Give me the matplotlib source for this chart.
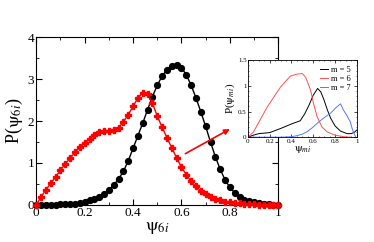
import matplotlib
matplotlib.use("Agg")
import matplotlib.pyplot as plt
import numpy as np
from matplotlib.ticker import MultipleLocator

plt.rcParams['font.family'] = ['Liberation Serif', 'DejaVu Serif']
plt.rcParams['mathtext.fontset'] = 'stix'

# main panel: P(psi_6i) at psi = 0, 0.02, ..., 1
psi = np.round(np.arange(51) * 0.02, 2)
p_black = [0.0, 0.01, 0.01, 0.01, 0.01, 0.02, 0.02, 0.02, 0.03, 0.04,
           0.08, 0.11, 0.15, 0.2, 0.27, 0.36, 0.47, 0.62, 0.8, 1.05,
           1.35, 1.65, 1.95, 2.27, 2.58, 2.85, 3.07, 3.22, 3.32, 3.33,
           3.27, 3.1, 2.85, 2.55, 2.22, 1.87, 1.5, 1.15, 0.85, 0.6,
           0.42, 0.29, 0.2, 0.13, 0.09, 0.06, 0.04, 0.03, 0.02, 0.01, 0.01]
p_red = [0.0, 0.2, 0.36, 0.52, 0.67, 0.83, 0.98, 1.12, 1.25, 1.37,
         1.47, 1.57, 1.66, 1.73, 1.76, 1.76, 1.78, 1.84, 1.98, 2.15,
         2.35, 2.55, 2.67, 2.64, 2.42, 2.12, 1.85, 1.6, 1.36, 1.12,
         0.9, 0.72, 0.56, 0.44, 0.34, 0.26, 0.2, 0.15, 0.11, 0.08,
         0.06, 0.05, 0.04, 0.03, 0.02, 0.02, 0.01, 0.01, 0.01, 0.0, 0.0]

# inset: P(psi_mi) for m = 5, 6, 7
x_m5 = [0, 0.05, 0.1, 0.2, 0.3, 0.39, 0.44, 0.48, 0.52, 0.56, 0.6, 0.64, 0.67, 0.7, 0.73, 0.76, 0.8, 0.85, 0.91, 0.95, 0.98, 1.0]
p_m5 = [0, 0.04, 0.07, 0.09, 0.17, 0.25, 0.29, 0.32, 0.45, 0.62, 0.82, 0.95, 0.88, 0.72, 0.53, 0.37, 0.22, 0.12, 0.07, 0.07, 0.1, 0.14]
x_m6 = [0, 0.05, 0.12, 0.18, 0.24, 0.3, 0.35, 0.39, 0.45, 0.5, 0.53, 0.575, 0.6, 0.635, 0.68, 0.73, 0.8, 0.88, 0.95]
p_m6 = [0, 0.1, 0.37, 0.6, 0.79, 0.98, 1.1, 1.19, 1.23, 1.24, 1.17, 0.92, 0.68, 0.4, 0.2, 0.1, 0.04, 0.01, 0]
x_m7 = [0, 0.3, 0.4, 0.45, 0.5, 0.545, 0.6, 0.635, 0.7, 0.76, 0.81, 0.85, 0.88, 0.91, 0.94, 0.96, 0.98, 0.99]
p_m7 = [0, 0, 0.01, 0.03, 0.06, 0.11, 0.2, 0.27, 0.38, 0.47, 0.58, 0.65, 0.52, 0.42, 0.3, 0.15, 0.05, 0]

x_ticks = [0, 0.2, 0.4, 0.6, 0.8, 1]
x_labels = ['0', '0.2', '0.4', '0.6', '0.8', '1']

fig = plt.figure(figsize=(3.74, 2.42), dpi=100)
ax = fig.add_axes([0.097, 0.153, 0.647, 0.694])
ax.plot(psi, p_black, '-o', color='black', ms=4.2, lw=1.0, zorder=3, clip_on=False)
ax.plot(psi, p_red, '-P', color='red', ms=4.0, lw=1.0, zorder=4, clip_on=False)
ax.set_xlim(0, 1)
ax.set_ylim(0, 4)
ax.set_xticks(x_ticks)
ax.set_xticklabels(x_labels)
ax.xaxis.set_minor_locator(MultipleLocator(0.1))
ax.set_yticks([0, 1, 2, 3, 4])
ax.set_yticklabels(['0', '1', '2', '3', '4'])
ax.yaxis.set_minor_locator(MultipleLocator(0.5))
ax.tick_params(which='both', direction='in', top=True, right=True, labelsize=9.5, pad=1.5)
ax.tick_params(which='major', length=4)
ax.tick_params(which='minor', length=2)
ax.set_xlabel(r'$\mathrm{\psi}_{6i}$', fontsize=13, labelpad=0)
ax.set_ylabel(r'P($\mathrm{\psi}_{6i}$)', fontsize=13, labelpad=2)

ax.annotate('', xy=(0.81, 1.84), xytext=(0.606, 1.19),
            arrowprops=dict(arrowstyle='-|>', color='red', lw=1.2,
                            mutation_scale=8), zorder=6)

ins = fig.add_axes([0.663, 0.433, 0.291, 0.318])
ins.plot(x_m5, p_m5, color='black', lw=0.7, label='m = 5')
ins.plot(x_m6, p_m6, color='#ff5050', lw=0.7, label='m = 6')
ins.plot(x_m7, p_m7, color='#5577ff', lw=0.7, label='m = 7')
ins.set_xlim(0, 1)
ins.set_ylim(0, 1.5)
ins.set_xticks(x_ticks)
ins.set_xticklabels(x_labels)
ins.set_yticks([0, 0.5, 1, 1.5])
ins.set_yticklabels(['0', '0.5', '1', '1.5'])
ins.xaxis.set_minor_locator(MultipleLocator(0.05))
ins.yaxis.set_minor_locator(MultipleLocator(0.1))
ins.tick_params(which='both', direction='in', top=True, right=True, labelsize=5, pad=1)
ins.tick_params(which='major', length=2, width=0.5)
ins.tick_params(which='minor', length=1, width=0.4)
for s in ins.spines.values():
    s.set_linewidth(0.6)
ins.set_xlabel(r'$\mathrm{\psi}_{mi}$', fontsize=8, labelpad=0)
ins.set_ylabel(r'P($\mathrm{\psi}_{mi}$)', fontsize=8, labelpad=1)
ins.legend(loc='upper right', fontsize=6, frameon=False, handlelength=1.0,
           handletextpad=0.4, labelspacing=0.1, borderaxespad=0.3)

fig.savefig('out.png', dpi=100)
